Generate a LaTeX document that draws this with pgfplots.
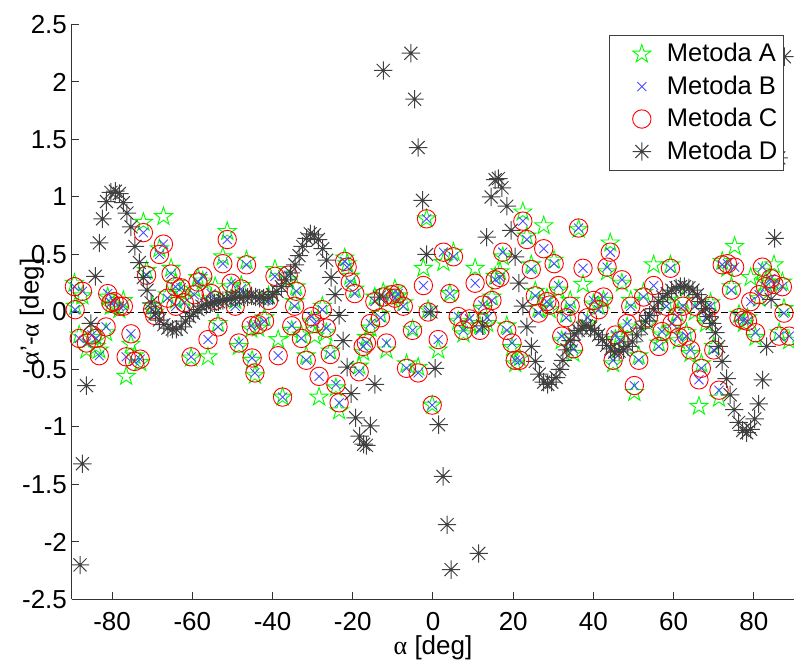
\documentclass[border=0pt]{standalone}
\usepackage{fontspec}
\setmainfont{Liberation Sans}
\newfontfamily\symfont{Liberation Serif}
\usepackage{pgfplots}
\pgfplotsset{compat=1.18}
\usepackage{pgfplotstable}

\pgfdeclareplotmark{pentagram}{%
  \pgfpathmoveto{\pgfpointpolar{90}{\pgfplotmarksize}}%
  \pgfpathlineto{\pgfpointpolar{126}{0.382\pgfplotmarksize}}%
  \pgfpathlineto{\pgfpointpolar{162}{\pgfplotmarksize}}%
  \pgfpathlineto{\pgfpointpolar{198}{0.382\pgfplotmarksize}}%
  \pgfpathlineto{\pgfpointpolar{234}{\pgfplotmarksize}}%
  \pgfpathlineto{\pgfpointpolar{270}{0.382\pgfplotmarksize}}%
  \pgfpathlineto{\pgfpointpolar{306}{\pgfplotmarksize}}%
  \pgfpathlineto{\pgfpointpolar{342}{0.382\pgfplotmarksize}}%
  \pgfpathlineto{\pgfpointpolar{18}{\pgfplotmarksize}}%
  \pgfpathlineto{\pgfpointpolar{54}{0.382\pgfplotmarksize}}%
  \pgfpathclose
  \pgfusepathqstroke}
\pgfdeclareplotmark{ast8}{%
  \pgfpathmoveto{\pgfqpoint{-\pgfplotmarksize}{0pt}}\pgfpathlineto{\pgfqpoint{\pgfplotmarksize}{0pt}}%
  \pgfpathmoveto{\pgfqpoint{0pt}{-\pgfplotmarksize}}\pgfpathlineto{\pgfqpoint{0pt}{\pgfplotmarksize}}%
  \pgfpathmoveto{\pgfpointpolar{45}{\pgfplotmarksize}}\pgfpathlineto{\pgfpointpolar{225}{\pgfplotmarksize}}%
  \pgfpathmoveto{\pgfpointpolar{135}{\pgfplotmarksize}}\pgfpathlineto{\pgfpointpolar{315}{\pgfplotmarksize}}%
  \pgfusepathqstroke}

\pgfplotstableread{
x C A
-89.4 0.22 0.25
-89.2 0.02 0.05
-88.2 -0.23 -0.20
-87.4 0.18 0.14
-86.4 -0.27 -0.33
-85.0 -0.20 -0.22
-84.0 -0.23 -0.30
-83.2 -0.38 -0.33
-81.5 -0.13 -0.18
-81.1 0.16 0.13
-80.3 0.08 0.05
-79.5 0.09 0.06
-78.2 0.05 0.02
-77.2 0.05 0.10
-76.5 -0.39 -0.56
-75.3 -0.19 -0.28
-74.4 -0.43 -0.38
-73.0 -0.41 -0.44
-72.2 0.69 0.78
-71.4 0.32 0.36
-69.9 0.02 0.05
-69.4 -0.03 0.00
-68.2 0.50 0.55
-67.2 0.59 0.83
-66.2 0.12 0.15
-65.3 0.33 0.38
-64.2 0.22 0.25
-64.1 0.05 0.10
-62.8 0.21 0.17
-62.0 0.08 0.12
-60.3 -0.39 -0.40
-59.5 0.15 0.20
-58.6 0.26 0.30
-57.4 0.31 0.27
-56.1 -0.24 -0.39
-55.3 0.16 0.12
-54.3 0.10 0.22
-53.6 -0.13 -0.10
-52.4 0.42 0.48
-51.3 0.63 0.70
-50.3 0.25 0.22
-49.3 0.05 0.10
-48.4 -0.27 -0.30
-47.8 0.20 0.23
-46.5 0.41 0.45
-45.3 -0.12 -0.15
-45.1 -0.40 -0.42
-44.4 -0.53 -0.55
-43.6 -0.11 -0.14
-42.0 -0.08 -0.05
-41.0 0.10 0.14
-39.4 0.31 0.37
-38.6 -0.38 -0.24
-37.5 -0.74 -0.74
-36.1 0.32 0.28
-35.2 -0.12 -0.16
-34.5 0.05 0.09
-34.1 0.18 0.22
-32.8 -0.23 -0.20
-31.6 -0.42 -0.38
-30.3 -0.04 -0.08
-29.5 -0.10 -0.21
-28.4 -0.56 -0.74
-27.6 0.02 0.05
-26.6 -0.14 -0.18
-25.6 -0.37 -0.34
-24.2 -0.63 -0.66
-23.4 -0.79 -0.86
-22.0 0.44 0.47
-21.4 0.39 0.42
-20.6 0.26 0.31
-19.5 0.16 0.20
-18.4 -0.52 -0.47
-17.4 -0.30 -0.35
-16.6 -0.27 -0.22
-15.6 -0.10 -0.14
-14.5 0.09 0.13
-13.1 -0.05 -0.02
-12.4 0.13 0.17
-11.6 -0.27 -0.33
-10.3 0.15 0.12
-9.5 0.12 0.20
-8.7 0.16 0.14
-7.4 0.05 0.08
-6.6 -0.49 -0.45
-5.1 -0.16 -0.15
-3.7 -0.53 -0.48
-2.4 0.23 0.38
-1.6 0.81 0.81
-1.2 0.00 0.02
-0.2 -0.81 -0.81
1.3 -0.24 -0.33
2.6 0.52 0.43
4.2 0.16 0.16
5.1 0.48 0.52
6.3 -0.04 -0.08
7.6 -0.16 -0.19
9.1 -0.06 -0.10
10.5 0.25 0.38
11.7 -0.16 -0.12
12.4 0.06 0.03
13.5 -0.05 -0.10
14.7 0.10 0.13
15.5 0.28 0.31
16.7 0.30 0.35
17.4 0.52 0.48
18.4 -0.16 -0.12
19.7 -0.27 -0.31
20.5 -0.42 -0.45
21.6 -0.42 -0.40
22.4 0.79 0.87
23.4 0.63 0.66
24.5 0.37 0.41
25.5 0.14 0.18
26.3 -0.01 0.03
27.6 0.55 0.75
28.4 0.09 0.12
29.1 0.06 0.02
30.2 0.42 0.45
31.3 0.23 0.19
32.1 -0.21 -0.25
33.2 -0.05 -0.02
34.2 0.05 0.10
35.0 -0.32 -0.36
36.3 0.73 0.72
37.4 0.38 0.24
38.5 -0.05 -0.10
40.0 0.10 0.07
41.3 0.02 0.05
42.5 0.13 0.10
43.4 0.39 0.35
44.2 0.52 0.60
44.9 -0.42 -0.45
45.5 -0.20 -0.24
46.6 -0.25 -0.20
47.1 0.28 0.25
48.4 -0.10 -0.13
49.3 0.05 0.10
50.2 -0.64 -0.70
51.3 -0.42 -0.38
52.5 0.13 0.17
53.7 -0.05 -0.10
55.0 0.23 0.41
56.3 -0.30 -0.27
57.1 -0.17 -0.20
58.2 0.05 0.08
59.2 0.38 0.41
59.6 -0.10 -0.14
60.9 -0.04 -0.01
61.3 -0.22 -0.25
62.3 0.05 0.10
63.2 -0.21 -0.18
64.2 -0.33 -0.36
65.3 0.05 0.00
66.3 -0.59 -0.82
66.9 -0.49 -0.45
68.1 -0.05 -0.10
69.2 0.05 0.08
70.0 -0.33 -0.30
71.3 -0.68 -0.75
72.1 0.41 0.44
73.4 0.42 0.38
74.4 0.19 0.22
75.2 0.39 0.57
76.3 -0.05 -0.02
77.5 -0.07 -0.10
78.4 -0.08 -0.05
79.2 0.09 0.30
80.4 -0.18 -0.22
81.3 0.15 0.12
82.1 0.39 0.35
82.9 0.22 0.26
84.2 0.29 0.25
85.0 0.24 0.41
86.3 -0.21 -0.18
87.1 0.22 0.26
87.5 -0.01 0.03
88.8 -0.21 -0.25
}\tabABC

\pgfplotstableread{
x D
-88.0 -2.20
-87.4 -1.32
-86.4 -0.64
-85.3 -0.10
-84.2 0.31
-83.2 0.60
-82.4 0.81
-81.4 0.96
-80.3 1.04
-79.2 1.05
-78.2 1.03
-77.2 0.95
-76.3 0.86
-75.3 0.74
-74.3 0.57
-73.2 0.43
-72.2 0.30
-71.3 0.19
-70.3 0.08
-69.2 -0.01
-68.2 -0.07
-67.1 -0.11
-66.1 -0.14
-65.0 -0.15
-64.0 -0.15
-62.8 -0.13
-61.7 -0.08
-60.7 -0.04
-59.7 -0.01
-58.6 0.02
-57.6 0.05
-56.5 0.06
-55.5 0.07
-54.5 0.08
-53.5 0.09
-52.4 0.10
-51.4 0.11
-50.3 0.12
-49.3 0.12
-48.3 0.13
-47.3 0.13
-46.2 0.13
-45.2 0.14
-44.2 0.13
-43.2 0.12
-42.2 0.12
-41.1 0.13
-40.0 0.15
-38.9 0.18
-37.8 0.22
-36.6 0.28
-35.5 0.34
-34.4 0.41
-33.4 0.49
-32.5 0.57
-31.5 0.64
-30.6 0.68
-29.6 0.67
-28.6 0.63
-27.5 0.55
-26.5 0.45
-25.4 0.30
-24.4 0.15
-23.4 -0.03
-22.4 -0.25
-21.4 -0.48
-20.4 -0.71
-19.3 -0.92
-18.3 -1.08
-17.3 -1.15
-16.6 -1.16
-15.6 -0.99
-14.5 -0.63
-13.4 0.13
-12.4 2.10
-5.5 2.25
-4.6 1.85
-3.7 1.43
-2.6 0.97
-1.6 0.50
-0.5 0.00
0.5 -0.49
1.4 -0.98
2.5 -1.43
3.5 -1.85
4.5 -2.24
11.4 -2.10
12.4 -0.12
13.4 0.65
14.5 1.00
15.5 1.15
16.3 1.16
17.2 1.08
18.4 0.92
19.5 0.71
20.5 0.48
21.4 0.25
22.4 0.05
23.4 -0.13
24.5 -0.30
25.5 -0.43
26.5 -0.54
27.6 -0.61
28.6 -0.63
29.6 -0.61
30.7 -0.57
31.6 -0.50
32.4 -0.42
33.4 -0.33
34.3 -0.25
35.2 -0.19
36.2 -0.16
37.2 -0.14
38.2 -0.12
39.3 -0.14
40.3 -0.16
41.3 -0.20
42.2 -0.24
43.3 -0.29
44.3 -0.32
45.3 -0.35
46.4 -0.34
47.5 -0.33
48.6 -0.30
49.7 -0.26
50.8 -0.20
51.9 -0.14
53.0 -0.08
54.0 -0.03
55.1 0.03
56.2 0.09
57.3 0.13
58.4 0.16
59.5 0.19
60.6 0.21
61.7 0.22
62.7 0.22
63.8 0.21
64.8 0.19
65.9 0.15
66.9 0.09
67.9 0.03
68.9 -0.04
69.6 -0.10
70.4 -0.18
71.2 -0.30
72.1 -0.43
73.2 -0.58
74.1 -0.72
75.1 -0.85
76.2 -0.96
77.2 -1.03
78.2 -1.05
79.2 -1.02
80.2 -0.93
81.2 -0.80
82.2 -0.59
83.2 -0.30
84.3 0.11
85.2 0.64
86.2 1.34
87.6 2.22
}\tabD

\begin{document}
\begin{tikzpicture}
\begin{axis}[
  width=361pt, height=287.5pt, scale only axis,
  xmin=-90, xmax=90, ymin=-2.5, ymax=2.5,
  axis x line*=bottom, axis y line*=left,
  axis line style={black!80, line width=0.5pt},
  tick align=inside, major tick length=3.5pt,
  tick style={black!80, line width=0.5pt},
  xtick={-80,-60,-40,-20,0,20,40,60,80},
  ytick={-2.5,-2,-1.5,-1,-0.5,0,0.5,1,1.5,2,2.5},
  ticklabel style={font=\fontsize{13}{15}\selectfont},
  /pgf/number format/assume math mode=true,
  xticklabel style={yshift=-3pt},
  yticklabel style={xshift=1pt},
  xlabel={{\symfont α} [deg]},
  ylabel={{\symfont α}'-{\symfont α} [deg]},
  label style={font=\fontsize{13}{15}\selectfont},
  xlabel style={at={(axis description cs:0.5,-0.0845)}, anchor=center},
  ylabel style={at={(axis description cs:-0.0554,0.5)}, anchor=center},
  clip=false,
  legend image code/.code={\path[draw=none,fill=none] (-15pt,0pt) -- (10.5pt,0pt);
    \draw[#1] plot coordinates {(0pt,0pt)};},
  legend style={at={(axis description cs:0.986,0.982)}, anchor=north east,
    draw=black!75, fill=white, line width=0.5pt,
    font=\fontsize{12.75}{14}\selectfont,
    inner xsep=1pt, inner ysep=2pt, row sep=1.5pt},
  legend cell align=left,
]
\addplot[black, line width=0.4pt, dash pattern=on 3.5pt off 2pt, forget plot] coordinates {(-90,0) (90,0)};
\addplot[only marks, mark=pentagram, mark size=4.8pt, green, mark options={line width=0.45pt}] table[x=x, y=A] {\tabABC};
\addlegendentry{Metoda A}
\addplot[only marks, mark=x, mark size=3.2pt, blue!70, mark options={line width=0.45pt}] table[x=x, y=C] {\tabABC};
\addlegendentry{Metoda B}
\addplot[only marks, mark=o, mark size=4.6pt, red, mark options={line width=0.45pt}] table[x=x, y=C] {\tabABC};
\addlegendentry{Metoda C}
\addplot[only marks, mark=ast8, mark size=4.6pt, black!75, mark options={line width=0.5pt}] table[x=x, y=D] {\tabD};
\addlegendentry{Metoda D}
\coordinate (bl) at (rel axis cs:0,0);
\coordinate (tr) at (rel axis cs:1,1);
\end{axis}
\pgfresetboundingbox
\path[use as bounding box] ([xshift=-36pt,yshift=-30.75pt]bl) rectangle ([yshift=12.25pt]tr);
\end{tikzpicture}
\end{document}
